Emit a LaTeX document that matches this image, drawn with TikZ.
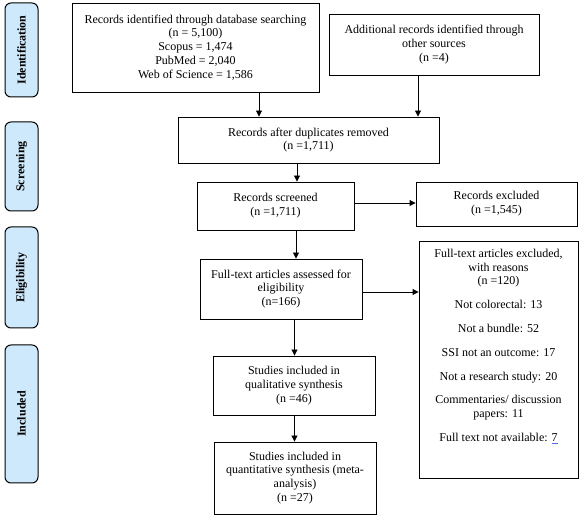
\documentclass[tikz,border=0pt]{standalone}
\usepackage{fontspec}
\setmainfont{Liberation Serif}
\usetikzlibrary{arrows.meta}
\definecolor{sidefill}{RGB}{206,233,252}
\definecolor{squig}{RGB}{70,110,220}
\begin{document}
\begin{tikzpicture}[x=1pt,y=-1pt,
  box/.style={draw, line width=0.9pt, align=center, inner sep=0pt,
    font=\fontsize{12}{13.8}\selectfont},
  side/.style={draw, line width=1pt, rounded corners=6pt, fill=sidefill,
    inner sep=0pt, font=\fontsize{12}{14}\selectfont\bfseries},
  sidetext/.style={rotate=90, font=\fontsize{12}{14}\selectfont\bfseries},
  arr/.style={line width=0.9pt, -{Triangle[length=6pt,width=6pt]}}]
\useasboundingbox (0,0) rectangle (587,521);
% side labels
\node[side, minimum width=33, minimum height=94] (s1) at (21.5,50) {};
\node[sidetext] (s1t) at (s1.center) {Identification};
\node[side, minimum width=33, minimum height=89] (s2) at (21.5,166.5) {};
\node[sidetext] (s2t) at (s2.center) {Screening};
\node[side, minimum width=33, minimum height=101] (s3) at (21.5,277.5) {};
\node[sidetext] (s3t) at (s3.center) {Eligibility};
\node[side, minimum width=33, minimum height=138] (s4) at (21.5,414) {};
\node[sidetext] (s4t) at (s4.center) {Included};
% boxes
\node[box, minimum width=247, minimum height=89] (b1) at (195.5,47.5)
  {Records identified through database searching\\(n = 5,100)\\Scopus = 1,474\\PubMed = 2,040\\Web of Science = 1,586};
\node[box, minimum width=210, minimum height=61] (b2) at (434,44.5)
  {Additional records identified through\\other sources\\(n =4)};
\node[box, minimum width=261, minimum height=46] (b3) at (308.5,140)
  {Records after duplicates removed\\(n =1,711)};
\node[box, minimum width=157, minimum height=48] (b4) at (275.5,206)
  {Records screened\\(n =1,711)};
\node[box, minimum width=161, minimum height=44] (b5) at (496.5,204)
  {Records excluded\\(n =1,545)};
\node[box, minimum width=162, minimum height=60] (b6) at (281,289)
  {Full-text articles assessed for\\eligibility\\(n=166)};
\node[box, minimum width=159, minimum height=237] (b7) at (498.5,359.5) {};
\node[box, draw=none, anchor=north] (b7t) at ([yshift=-8pt]b7.north)
  {Full-text articles excluded,\\with reasons\\(n =120)\\[10pt]
   Not colorectal: 13\\[10pt]Not a bundle: 52\\[10pt]SSI not an outcome: 17\\[10pt]
   Not a research study: 20\\[10pt]Commentaries/ discussion\\papers: 11\\[10pt]
   Full text not available: {\color{squig}\underline{\color{black}7}}};
\node[box, minimum width=162, minimum height=59] (b8) at (294,385.5)
  {Studies included in\\qualitative synthesis\\(n =46)};
\node[box, minimum width=162, minimum height=72] (b9) at (295,478)
  {Studies included in\\quantitative synthesis (meta-\\analysis)\\(n =27)};
% arrow guide coordinates
\coordinate (x1) at (259,0);
\coordinate (x2) at (418,0);
\coordinate (x3) at (297,0);
\coordinate (x4) at (296,0);
\coordinate (x5) at (294.5,0);
\coordinate (y1) at (0,203);
\coordinate (y2) at (0,292);
% arrows
\draw[arr] (b1.south -| x1) -- (b3.north -| x1);
\draw[arr] (b2.south -| x2) -- (b3.north -| x2);
\draw[arr] (b3.south -| x3) -- (b4.north -| x3);
\draw[arr] (b4.east |- y1) -- (b5.west |- y1);
\draw[arr] (b4.south -| x4) -- (b6.north -| x4);
\draw[arr] (b6.east |- y2) -- (b7.west |- y2);
\draw[arr] (b6.south -| x5) -- (b8.north -| x5);
\draw[arr] (b8.south -| x5) -- (b9.north -| x5);
\end{tikzpicture}
\end{document}
